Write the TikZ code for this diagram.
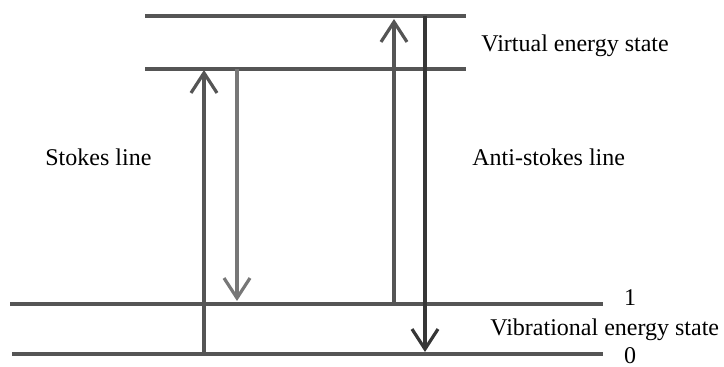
\documentclass[tikz,border=0pt]{standalone}
\usepackage{fontspec}
\setmainfont{Liberation Serif}
\usepackage{xcolor}
\usetikzlibrary{arrows.meta}

\definecolor{lvlgray}{HTML}{555555}
\definecolor{lightgray}{HTML}{777777}
\definecolor{darkgray}{HTML}{363636}

\tikzset{
  level/.style={draw=lvlgray,line width=1.7pt},
  trans/.style={-{Straight Barb[length=10pt,width=13pt,line width=1.6pt]},line width=1.6pt},
  lbl/.style={inner sep=0pt,font=\fontsize{12}{14}\selectfont,anchor=west}
}

\begin{document}
\begin{tikzpicture}[x=0.5pt,y=-0.5pt]
\useasboundingbox (0,0) rectangle (724,367);

% energy levels
\coordinate (V2l) at (145,16);  \coordinate (V2r) at (466,16);
\coordinate (V1l) at (145,69);  \coordinate (V1r) at (466,69);
\coordinate (E1l) at (10,304);  \coordinate (E1r) at (603,304);
\coordinate (E0l) at (12,354);  \coordinate (E0r) at (603,354);
\draw[level] (V2l) -- (V2r);
\draw[level] (V1l) -- (V1r);
\draw[level] (E1l) -- (E1r);
\draw[level] (E0l) -- (E0r);

% transitions
\coordinate (Sa) at (204,354); \coordinate (Sb) at (204,70);
\coordinate (Sc) at (237,69);  \coordinate (Sd) at (237,301);
\coordinate (Aa) at (394,304); \coordinate (Ab) at (394,19);
\coordinate (Ac) at (425,16);  \coordinate (Ad) at (425,352);
\draw[trans,lvlgray] (Sa) -- (Sb);
\draw[trans,lightgray] (Sc) -- (Sd);
\draw[trans,lvlgray] (Aa) -- (Ab);
\draw[trans,darkgray] (Ac) -- (Ad);

% labels
\node[lbl] (virt) at (481,46) {Virtual energy state};
\node[lbl] (stokes) at (45,157) {Stokes line};
\node[lbl] (anti) at (472,157) {Anti-stokes line};
\node[lbl,anchor=center] (one) at (630,298) {1};
\node[lbl] (vib) at (490,330) {Vibrational energy state};
\node[lbl,anchor=center] (zero) at (630,356) {0};

\end{tikzpicture}
\end{document}
